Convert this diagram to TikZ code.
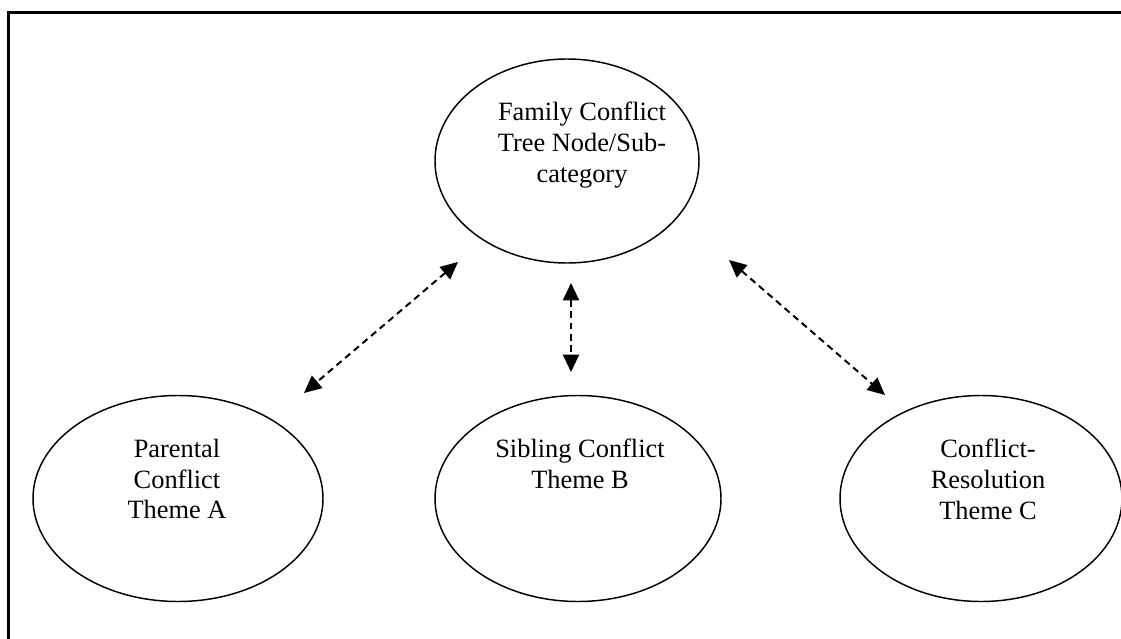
\documentclass[tikz,border=0pt]{standalone}
\usepackage{fontspec}
\setmainfont{Liberation Serif}
\usetikzlibrary{shapes.geometric,arrows.meta}
\begin{document}
\begin{tikzpicture}[x=0.75pt,y=-0.75pt,
  bubble/.style={draw,ellipse,line width=1.1pt,inner sep=0pt,minimum height=154.5pt},
  label/.style={font=\fontsize{19.8}{23}\selectfont,align=center,inner sep=0pt,anchor=north},
  link/.style={line width=1.5pt,dash pattern=on 5pt off 3.5pt,{Triangle[length=13pt,width=12pt]}-{Triangle[length=13pt,width=12pt]}}]
\useasboundingbox (0,0) rectangle (1121,639);
\fill[white] (0,0) rectangle (1121,639);
% frame
\draw[line width=2.2pt] (8.5,639) -- (8.5,12.5) -- (1121,12.5);
% ellipses
\node[bubble,minimum width=198pt,minimum height=153pt] (top) at (567,161) {};
\node[bubble,minimum width=217.5pt] (left) at (178,498.5) {};
\node[bubble,minimum width=214.5pt] (mid) at (578,498.5) {};
\node[bubble,minimum width=211.5pt] (right) at (981,498.5) {};
% texts
\node[label] (ttop) at (582,102) {Family Conflict\\Tree Node/Sub-\\category};
\node[label] (tleft) at (177,439) {Parental\\Conflict\\Theme A};
\node[label] (tmid) at (580,439) {Sibling Conflict\\Theme B};
\node[label] (tright) at (988,439) {Conflict-\\Resolution\\Theme C};
% connector ends
\coordinate (l1) at (458,262);
\coordinate (l2) at (304,393);
\coordinate (m1) at (571,283);
\coordinate (m2) at (571,372);
\coordinate (r1) at (729,260);
\coordinate (r2) at (885,395);
\draw[link] (l1) -- (l2);
\draw[link] (m1) -- (m2);
\draw[link] (r1) -- (r2);
\end{tikzpicture}
\end{document}
